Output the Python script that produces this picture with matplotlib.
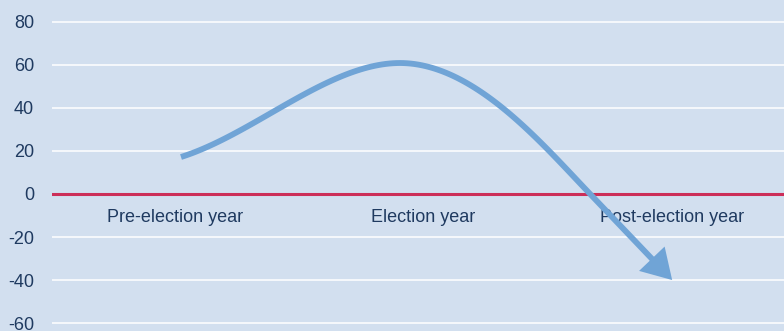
import matplotlib
matplotlib.use("Agg")
import matplotlib.pyplot as plt
import numpy as np
from matplotlib.path import Path
from matplotlib.patches import FancyArrowPatch

plt.rcParams['font.family'] = ['Liberation Sans', 'DejaVu Sans']

# Category axis and value ticks
categories = ["Pre-election year", "Election year", "Post-election year"]
y_ticks = [-60, -40, -20, 0, 20, 40, 60, 80]

# Trend arrow: start, peak, zero crossing and tip (category position, value)
start = (0.024, 17.2)
peak = (0.905, 60.9)
crossing = (1.67, 0.0)
arrow_tip = (2.0, -40.0)
# Bezier handles shaping the rise and the fall
rise_handles = [(0.32, 28.0), (0.62, 60.9)]
fall_handles = [(1.20, 60.9), (1.47, 24.2)]

BG = "#D2DFEF"
LINE = "#70A4D6"
ZERO = "#CC2E58"
TEXT = "#1F3A60"

fig = plt.figure(figsize=(7.84, 3.31), dpi=100, facecolor=BG)
ax = fig.add_axes([52 / 784, 0, 1 - 52 / 784, 1])
ax.set_facecolor(BG)

ax.set_xlim(-0.495, 2.45)
ax.set_ylim(-63.7, 90.2)

for v in y_ticks:
    if v != 0:
        ax.axhline(v, color="white", lw=1.1, zorder=1)
ax.axhline(0, color=ZERO, lw=2.2, zorder=2)

ax.set_yticks(y_ticks)
ax.set_yticklabels([str(v) for v in y_ticks], color=TEXT, fontsize=13)
ax.tick_params(axis="y", length=0, pad=13)
ax.set_xticks([])
for s in ax.spines.values():
    s.set_visible(False)

for i, c in enumerate(categories):
    ax.text(i, -11, c, ha="center", va="center", fontsize=13, color=TEXT, zorder=3)


def cubic(p0, p1, p2, p3, n=60):
    p0, p1, p2, p3 = map(np.asarray, (p0, p1, p2, p3))
    t = np.linspace(0, 1, n, endpoint=False)[:, None]
    return ((1 - t) ** 3 * p0 + 3 * (1 - t) ** 2 * t * p1
            + 3 * (1 - t) * t ** 2 * p2 + t ** 3 * p3)


verts = np.vstack([
    cubic(start, rise_handles[0], rise_handles[1], peak),
    cubic(peak, fall_handles[0], fall_handles[1], crossing),
    np.array([crossing, arrow_tip]),
])
codes = [Path.MOVETO] + [Path.LINETO] * (len(verts) - 1)

arrow = FancyArrowPatch(path=Path(verts, codes),
                        arrowstyle="-|>,head_length=15,head_width=9",
                        color=LINE, lw=4.2, zorder=4,
                        shrinkA=0, shrinkB=0, capstyle="butt", joinstyle="miter")
ax.add_patch(arrow)

fig.savefig("out.png", dpi=100, facecolor=BG)
